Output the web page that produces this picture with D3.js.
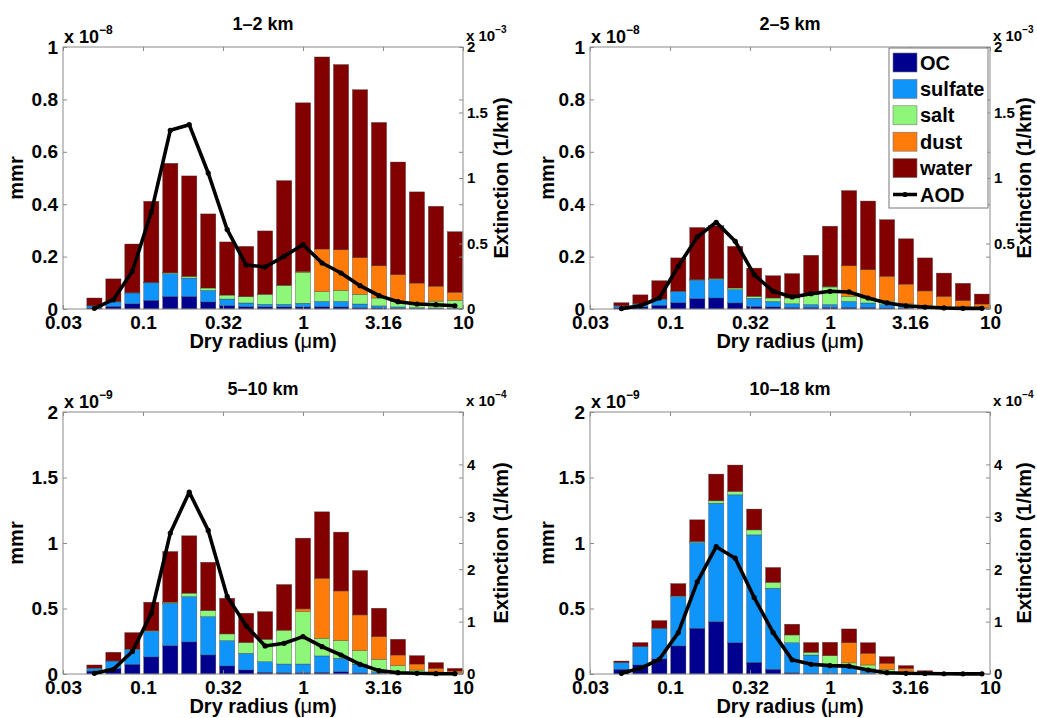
<!DOCTYPE html>
<html><head><meta charset="utf-8">
<script src="https://cdn.jsdelivr.net/npm/d3@7"></script>
<style>
body{margin:0;background:#fff}
text{font-family:"Liberation Sans",Arial,Helvetica,sans-serif;font-weight:bold;fill:#000}
</style>
</head><body>
<svg id="chart" width="1037" height="718"></svg>
<script>
// ---------- data ----------
const radius = [0.0497,0.0653,0.0858,0.1127,0.1481,0.1945,0.2556,0.3358,0.4413,0.5798,
                0.7621,1.0,1.316,1.729,2.272,2.985,3.923,5.155,6.774,8.902];
const xTickValues = [0.0316,0.1,0.316,1,3.16,10];
const xTickLabels = ["0.03","0.1","0.32","1","3.16","10"];
const componentNames = ["OC","sulfate","salt","dust","water"];
const componentColors = ["#00008f","#0f94fa","#8ef77a","#ff7b0a","#820000"];

// 1-2 km  (mmr x 1e-8, extinction x 1e-3)
const oc12      = [0.004,0.010,0.020,0.033,0.048,0.048,0.027,0.013,0.009,0.008,0.008,0.008,0.009,0.008,0.005,0.004,0.003,0.002,0.002,0.001];
const sulfate12 = [0.008,0.017,0.041,0.067,0.087,0.070,0.044,0.025,0.014,0.010,0.010,0.014,0.020,0.021,0.014,0.008,0.005,0.003,0.002,0.002];
const salt12    = [0.001,0.002,0.001,0.002,0.003,0.006,0.009,0.015,0.024,0.038,0.072,0.118,0.037,0.042,0.037,0.030,0.021,0.017,0.026,0.030];
const dust12    = [0,0,0,0,0,0,0,0,0,0,0.001,0.003,0.163,0.155,0.140,0.123,0.102,0.077,0.057,0.031];
const water12   = [0.029,0.086,0.186,0.309,0.418,0.384,0.283,0.203,0.192,0.242,0.399,0.644,0.733,0.707,0.641,0.547,0.430,0.348,0.305,0.231];
const aod12     = [0.005,0.071,0.288,0.740,1.364,1.407,1.038,0.606,0.336,0.321,0.402,0.491,0.351,0.275,0.178,0.102,0.056,0.038,0.033,0.025];

// 2-5 km  (mmr x 1e-8, extinction x 1e-3)
const oc25      = [0.005,0.008,0.014,0.024,0.040,0.042,0.023,0.010,0.008,0.006,0.006,0.006,0.006,0.006,0.004,0.003,0.002,0.001,0.001,0.001];
const sulfate25 = [0.007,0.011,0.023,0.043,0.070,0.071,0.051,0.031,0.021,0.014,0.011,0.011,0.023,0.017,0.013,0.007,0.004,0.003,0.002,0.001];
const salt25    = [0,0.001,0.001,0.001,0.002,0.003,0.006,0.007,0.013,0.022,0.038,0.067,0.019,0.019,0.013,0.010,0.008,0.006,0.004,0.003];
const dust25    = [0,0,0,0,0,0,0,0,0,0,0.001,0.002,0.117,0.108,0.095,0.075,0.055,0.038,0.025,0.014];
const water25   = [0.012,0.034,0.070,0.127,0.199,0.202,0.159,0.108,0.085,0.093,0.149,0.230,0.287,0.262,0.216,0.173,0.126,0.089,0.066,0.038];
const aod25     = [0.003,0.025,0.084,0.326,0.550,0.662,0.517,0.262,0.135,0.092,0.117,0.135,0.130,0.084,0.046,0.025,0.015,0.008,0.005,0.005];

// 5-10 km (mmr x 1e-9, extinction x 1e-4)
const oc510      = [0.022,0.043,0.074,0.130,0.217,0.245,0.145,0.061,0.031,0.013,0.010,0.010,0.013,0.018,0.008,0.004,0.002,0.001,0.001,0.000];
const sulfate510 = [0.021,0.056,0.113,0.195,0.323,0.346,0.293,0.194,0.127,0.081,0.066,0.066,0.125,0.102,0.068,0.014,0.003,0.002,0.001,0.001];
const salt510    = [0.002,0.001,0.003,0.005,0.008,0.026,0.046,0.051,0.082,0.171,0.255,0.400,0.135,0.135,0.102,0.094,0.059,0.027,0.013,0.007];
const dust510    = [0,0,0,0,0,0,0,0,0,0,0.005,0.021,0.458,0.379,0.273,0.173,0.081,0.046,0.028,0.015];
const water510   = [0.024,0.066,0.126,0.218,0.387,0.438,0.369,0.272,0.224,0.211,0.347,0.540,0.507,0.449,0.339,0.217,0.120,0.064,0.044,0.020];
const aod510     = [0.013,0.090,0.430,1.160,2.690,3.470,2.740,1.480,0.920,0.535,0.586,0.713,0.522,0.363,0.185,0.064,0.025,0.013,0.006,0.006];

// 10-18 km (mmr x 1e-9, extinction x 1e-4)
const oc1018      = [0.036,0.069,0.115,0.214,0.349,0.400,0.239,0.089,0.036,0.010,0.006,0.005,0.005,0.004,0.002,0.001,0,0,0,0];
const sulfate1018 = [0.051,0.140,0.234,0.377,0.655,0.904,1.129,0.973,0.619,0.229,0.139,0.065,0.055,0.036,0.018,0.009,0.004,0.001,0,0];
const salt1018    = [0.001,0.001,0.001,0.004,0.007,0.018,0.026,0.038,0.045,0.059,0.021,0.070,0.025,0.029,0.015,0.005,0.002,0.001,0,0];
const dust1018    = [0,0,0,0,0,0,0,0,0,0,0,0,0.154,0.089,0.047,0.028,0.009,0.003,0.001,0];
const water1018   = [0.011,0.030,0.058,0.095,0.166,0.204,0.201,0.159,0.113,0.082,0.074,0.102,0.105,0.081,0.050,0.021,0.010,0.003,0.001,0.001];
const aod1018     = [0.013,0.108,0.280,0.790,1.760,2.430,2.210,1.460,0.790,0.270,0.185,0.160,0.150,0.076,0.025,0.013,0.010,0.005,0.003,0.003];

const titles = ["1\u20132 km","2\u20135 km","5\u201310 km","10\u201318 km"];
const mmrTicksA = [0,0.2,0.4,0.6,0.8,1];
const mmrTicksB = [0,0.5,1,1.5,2];
const extTicksA = [0,0.5,1,1.5,2];
const extTicksB = [0,1,2,3,4];

// ---------- layout ----------
const panels = [
  {title:titles[0], left:63,  top:47,  yMax:1, yTicks:mmrTicksA, yExp:"\u22128", rMax:2, rTicks:extTicksA, rExp:"\u22123",
   comps:[oc12,sulfate12,salt12,dust12,water12], aod:aod12, mmrOff:40, extOff:45, legend:false},
  {title:titles[1], left:590, top:47,  yMax:1, yTicks:mmrTicksA, yExp:"\u22128", rMax:2, rTicks:extTicksA, rExp:"\u22123",
   comps:[oc25,sulfate25,salt25,dust25,water25], aod:aod25, mmrOff:36, extOff:41, legend:true},
  {title:titles[2], left:63,  top:412, yMax:2, yTicks:mmrTicksB, yExp:"\u22129", rMax:5, rTicks:extTicksB, rExp:"\u22124",
   comps:[oc510,sulfate510,salt510,dust510,water510], aod:aod510, mmrOff:40, extOff:45, legend:false},
  {title:titles[3], left:590, top:412, yMax:2, yTicks:mmrTicksB, yExp:"\u22129", rMax:5, rTicks:extTicksB, rExp:"\u22124",
   comps:[oc1018,sulfate1018,salt1018,dust1018,water1018], aod:aod1018, mmrOff:36, extOff:41, legend:false}
];
const W = 400, H = 262;
const axisColor = "#8a8a8a";

const svg = d3.select("#chart");
svg.append("rect").attr("width",1037).attr("height",718).attr("fill","#fff");

const step = Math.log10(radius[1]/radius[0]);
const half = Math.pow(10, step*0.8/2);

panels.forEach(p => {
  const g = svg.append("g").attr("transform",`translate(${p.left},${p.top})`);
  const x = d3.scaleLog().domain([Math.pow(10,-1.5),10]).range([0,W]);
  const y = d3.scaleLinear().domain([0,p.yMax]).range([H,0]);
  const yr = d3.scaleLinear().domain([0,p.rMax]).range([H,0]);

  // stacked bars
  const rows = radius.map((r,i)=>{
    const o = {r}; componentNames.forEach((c,k)=>o[c]=p.comps[k][i]); return o;
  });
  const series = d3.stack().keys(componentNames)(rows);
  series.forEach((s,k)=>{
    g.append("g").selectAll("rect").data(s).join("rect")
      .attr("x", d=>x(d.data.r/half))
      .attr("width", d=>x(d.data.r*half)-x(d.data.r/half))
      .attr("y", d=>y(d[1]))
      .attr("height", d=>Math.max(0,y(d[0])-y(d[1])))
      .attr("fill", componentColors[k])
      .attr("stroke","#3a3a3a").attr("stroke-width",0.5).attr("stroke-opacity",0.7);
  });

  // box
  g.append("rect").attr("width",W).attr("height",H).attr("fill","none")
    .attr("stroke",axisColor).attr("stroke-width",1);

  // axes
  const fmt = d=>String(d);
  const ax = g.append("g").attr("transform",`translate(0,${H})`)
    .call(d3.axisBottom(x).tickValues(xTickValues).tickFormat((d,i)=>xTickLabels[i]).tickSize(-4).tickPadding(7));
  ax.selectAll("text").attr("font-size",19);
  g.append("g").call(d3.axisTop(x).tickValues(xTickValues).tickFormat("").tickSize(-4));
  const ay = g.append("g").call(d3.axisLeft(y).tickValues(p.yTicks).tickFormat(fmt).tickSize(-4).tickPadding(5));
  ay.selectAll("text").attr("font-size",19);
  g.append("g").attr("transform",`translate(${W},0)`).call(d3.axisRight(y).tickValues(p.yTicks).tickFormat("").tickSize(-4));
  const ar = g.append("g").attr("transform",`translate(${W},0)`)
    .call(d3.axisRight(yr).tickValues(p.rTicks).tickFormat(fmt).tickSize(-4).tickPadding(4));
  ar.selectAll("text").attr("font-size",15);
  g.selectAll(".domain").remove();
  g.selectAll(".tick line").attr("stroke",axisColor);
  g.selectAll(".tick text").attr("font-family",'"Liberation Sans",Arial,sans-serif').attr("font-weight","bold").attr("fill","#000");

  // AOD line
  const line = d3.line().x((d,i)=>x(radius[i])).y(d=>yr(d));
  g.append("path").datum(p.aod).attr("d",line).attr("fill","none")
    .attr("stroke","#000").attr("stroke-width",3.6).attr("stroke-linejoin","round");
  g.append("g").selectAll("circle").data(p.aod).join("circle")
    .attr("cx",(d,i)=>x(radius[i])).attr("cy",d=>yr(d)).attr("r",2.6).attr("fill","#000");

  // title
  g.append("text").attr("x",W/2).attr("y",-17).attr("text-anchor","middle").attr("font-size",18).text(p.title);

  // exponent labels
  const el = g.append("text").attr("x",1).attr("y",-4).attr("font-size",18);
  el.append("tspan").text("x 10");
  el.append("tspan").attr("font-size",12).attr("dy",-9).text(p.yExp);
  const er = g.append("text").attr("x",W+3).attr("y",-6).attr("font-size",15);
  er.append("tspan").text("x 10");
  er.append("tspan").attr("font-size",10).attr("dy",-8).text(p.rExp);

  // axis labels
  const xl = g.append("text").attr("x",W/2).attr("y",H+39).attr("text-anchor","middle").attr("font-size",20);
  xl.append("tspan").text("Dry radius (");
  xl.append("tspan").attr("font-weight","normal").text("\u03bc");
  xl.append("tspan").text("m)");
  g.append("text").attr("transform",`translate(${-p.mmrOff},${H/2}) rotate(-90)`)
    .attr("text-anchor","middle").attr("font-size",20).text("mmr");
  g.append("text").attr("transform",`translate(${W+p.extOff},${H/2}) rotate(-90)`)
    .attr("text-anchor","middle").attr("font-size",20).text("Extinction (1/km)");

  // legend
  if (p.legend) {
    const lg = svg.append("g").attr("transform","translate(889,48)");
    lg.append("rect").attr("width",99).attr("height",160).attr("fill","#fff")
      .attr("stroke","#777").attr("stroke-width",1);
    const rowY = i => 14.5 + i*26.4;
    componentNames.forEach((c,i)=>{
      lg.append("rect").attr("x",4).attr("y",rowY(i)-9.5).attr("width",24).attr("height",19)
        .attr("fill",componentColors[i]).attr("stroke","#777").attr("stroke-width",0.6);
      lg.append("text").attr("x",31).attr("y",rowY(i)+7).attr("font-size",20).text(c);
    });
    const ya = rowY(5);
    lg.append("line").attr("x1",4).attr("x2",28).attr("y1",ya).attr("y2",ya)
      .attr("stroke","#000").attr("stroke-width",3.5);
    lg.append("circle").attr("cx",16).attr("cy",ya).attr("r",2.6).attr("fill","#000");
    lg.append("text").attr("x",31).attr("y",ya+7).attr("font-size",20).text("AOD");
  }
});
</script>
</body></html>
